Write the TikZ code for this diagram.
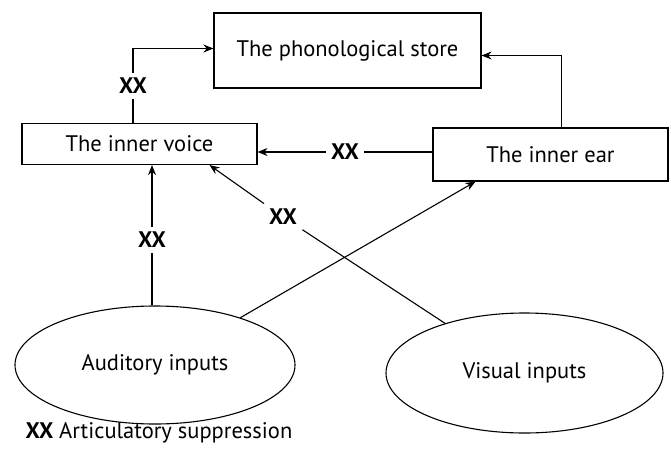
\documentclass[tikz,border=0pt]{standalone}
\usepackage{fontspec}
\setmainfont{PT Sans}
\usetikzlibrary{shapes.geometric,arrows.meta}
\begin{document}
\begin{tikzpicture}[x=1pt,y=-1pt,
  font=\fontsize{22.5}{27}\selectfont,
  line width=1.1pt,
  box/.style={draw,rectangle,inner sep=0pt},
  oval/.style={draw,ellipse,inner sep=0pt},
  mark xx/.style={font=\fontsize{22.5}{27}\selectfont\bfseries,inner sep=5pt},
  link/.style={-{Stealth[length=10pt,width=8pt]}}]
\useasboundingbox (0,0) rectangle (671,455);
% boxes
\node[box,minimum width=267pt,minimum height=75pt] (store) at (347.5,50.5) {The phonological store};
\node[box,minimum width=235pt,minimum height=41pt] (voice) at (139.5,144) {The inner voice};
\node[box,minimum width=235pt,minimum height=53pt] (ear) at (550.5,154.5) {The inner ear};
% inputs
\node[oval,minimum width=280pt,minimum height=118pt] (aud) at (155,365) {Auditory inputs};
\node[oval,minimum width=277pt,minimum height=120pt] (vis) at (524.5,373) {Visual inputs};
% suppression marks
\node[mark xx] (x1) at (133,86) {XX};
\node[mark xx] (x2) at (345,152) {XX};
\node[mark xx] (x3) at (152,240) {XX};
\node[mark xx] (x4) at (283,217) {XX};
% connectors
\draw (voice.north -| x1) -- (x1.south);
\draw[link] (x1.north) |- ([yshift=2pt]store.west);
\draw[link] ([xshift=11pt]ear.north) |- ([yshift=-5pt]store.east);
\draw (ear.west |- x2) -- (x2.east);
\draw[link] (x2.west) -- (voice.east |- x2);
\draw (aud.north -| x3) -- (x3.south);
\draw[link] (x3.north) -- (voice.south -| x3);
\draw[link] (aud.29) -- ([xshift=-75pt]ear.south);
\draw (vis.148) -- (x4);
\draw[link] (x4) -- ([xshift=70pt]voice.south);
% legend
\node[anchor=west,inner sep=0pt] (legend) at (25,433) {\textbf{XX} Articulatory suppression};
\end{tikzpicture}
\end{document}
